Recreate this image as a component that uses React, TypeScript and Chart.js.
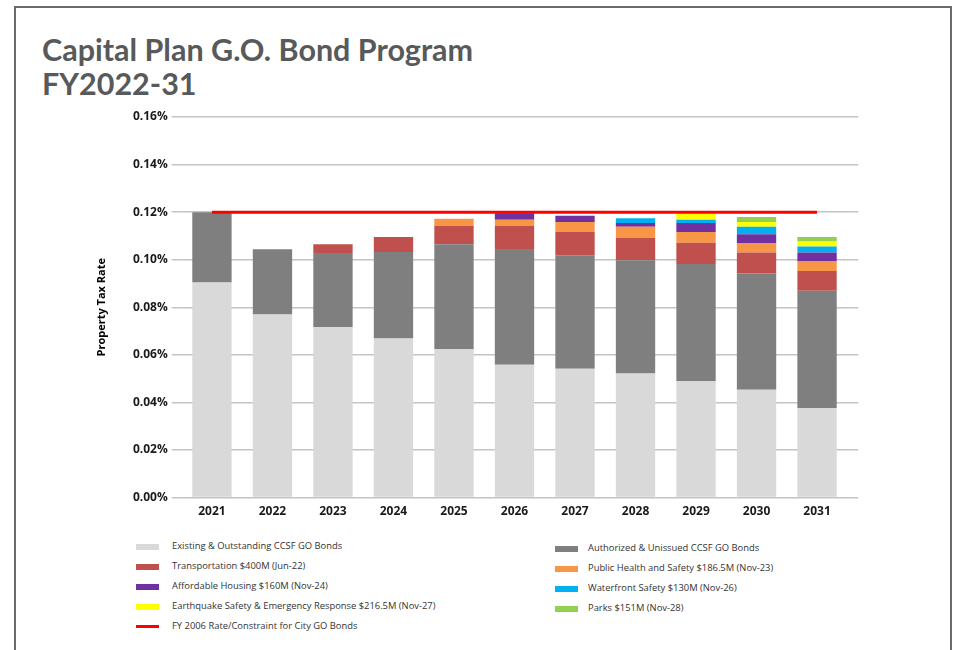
import React, { useEffect, useRef } from 'react';
import { Chart, registerables } from 'chart.js';

Chart.register(...registerables);

// ---------- data ----------
const years = ['2021', '2022', '2023', '2024', '2025', '2026', '2027', '2028', '2029', '2030', '2031'];

const existing = [0.0904, 0.0769, 0.0717, 0.0669, 0.0623, 0.0558, 0.0541, 0.0521, 0.0489, 0.0453, 0.0376];
const authorized = [0.0296, 0.0275, 0.0311, 0.0363, 0.0442, 0.0487, 0.0478, 0.0477, 0.0493, 0.0489, 0.0493];
const transportation = [0, 0, 0.0037, 0.0063, 0.0078, 0.0098, 0.0099, 0.0093, 0.0089, 0.0088, 0.0083];
const publicHealth = [0, 0, 0, 0, 0.0029, 0.0025, 0.004, 0.0047, 0.0045, 0.004, 0.004];
const housing = [0, 0, 0, 0, 0, 0.0027, 0.0027, 0.0016, 0.0038, 0.0037, 0.0038];
const waterfront = [0, 0, 0, 0, 0, 0, 0, 0.002, 0.0014, 0.0031, 0.0025];
const earthquake = [0, 0, 0, 0, 0, 0, 0, 0, 0.0028, 0.0021, 0.0021];
const parks = [0, 0, 0, 0, 0, 0, 0, 0, 0, 0.002, 0.0019];
const constraint = [0.12, 0.12, 0.12, 0.12, 0.12, 0.12, 0.12, 0.12, 0.12, 0.12, 0.12];

const yTicks = [0, 0.02, 0.04, 0.06, 0.08, 0.1, 0.12, 0.14, 0.16];

const titleLines = ['Capital Plan G.O. Bond Program', 'FY2022-31'];
const yTitle = 'Property Tax Rate';

const barSeries = [
  { key: 'existing', label: 'Existing & Outstanding CCSF GO Bonds', data: existing, color: '#d9d9d9' },
  { key: 'authorized', label: 'Authorized & Unissued CCSF GO Bonds', data: authorized, color: '#7f7f7f' },
  { key: 'transportation', label: 'Transportation $400M (Jun-22)', data: transportation, color: '#c0504d' },
  { key: 'publicHealth', label: 'Public Health and Safety $186.5M (Nov-23)', data: publicHealth, color: '#f79646' },
  { key: 'housing', label: 'Affordable Housing $160M (Nov-24)', data: housing, color: '#7030a0' },
  { key: 'waterfront', label: 'Waterfront Safety $130M (Nov-26)', data: waterfront, color: '#00b0f0' },
  { key: 'earthquake', label: 'Earthquake Safety & Emergency Response $216.5M (Nov-27)', data: earthquake, color: '#ffff00' },
  { key: 'parks', label: 'Parks $151M (Nov-28)', data: parks, color: '#92d050' },
];
const lineSeries = { key: 'constraint', label: 'FY 2006 Rate/Constraint for City GO Bonds', data: constraint, color: '#ff0000' };

const legendLeft = ['existing', 'transportation', 'housing', 'earthquake', 'constraint'];
const legendRight = ['authorized', 'publicHealth', 'waterfront', 'parks'];

const FONT = "'Open Sans', 'DejaVu Sans', sans-serif";

function findSeries(key: string) {
  if (key === lineSeries.key) return { ...lineSeries, isLine: true };
  const s = barSeries.find((b) => b.key === key)!;
  return { ...s, isLine: false };
}

function LegendColumn({ keys, left, top, swatchLeft, textLeft }: { keys: string[]; left: number; top: number; swatchLeft: number; textLeft: number }) {
  return (
    <div style={{ position: 'absolute', left, top }}>
      {keys.map((k, i) => {
        const s = findSeries(k);
        return (
          <div key={k} style={{ position: 'absolute', top: i * 20.1, left: 0, height: 14, width: 400 }}>
            <div
              style={{
                position: 'absolute',
                left: swatchLeft,
                top: s.isLine ? 6 : 4.5,
                width: 23,
                height: s.isLine ? 2.5 : 6,
                background: s.color,
              }}
            />
            <div
              style={{
                position: 'absolute',
                left: textLeft,
                top: 0,
                fontFamily: FONT,
                fontSize: 9.4,
                lineHeight: '14px',
                color: '#333',
                whiteSpace: 'nowrap',
              }}
            >
              {s.label}
            </div>
          </div>
        );
      })}
    </div>
  );
}

export default function App() {
  const canvasRef = useRef<HTMLCanvasElement | null>(null);

  useEffect(() => {
    const canvas = canvasRef.current;
    if (!canvas) return;
    const tickFont = { family: FONT, size: 12, weight: 'bold' as const };
    const gridColor = '#c4c4c4';
    const chart = new Chart(canvas, {
      type: 'bar',
      data: {
        labels: years,
        datasets: [
          {
            type: 'line' as const,
            label: lineSeries.label,
            data: lineSeries.data,
            borderColor: lineSeries.color,
            backgroundColor: lineSeries.color,
            borderWidth: 3,
            pointRadius: 0,
            fill: false,
            stack: 'line',
            order: 0,
          } as any,
          ...barSeries.map((s) => ({
            type: 'bar' as const,
            label: s.label,
            data: s.data,
            backgroundColor: s.color,
            borderWidth: 0,
            stack: 'bonds',
            order: 1,
            barPercentage: 0.65,
            categoryPercentage: 1,
          })),
        ],
      },
      options: {
        responsive: false,
        maintainAspectRatio: false,
        animation: false,
        layout: { padding: { top: 17, left: 91.5, right: 96.7, bottom: 0 } },
        plugins: {
          legend: { display: false },
          title: { display: false },
          tooltip: { enabled: false },
        },
        scales: {
          x: {
            stacked: true,
            grid: { display: false, drawTicks: false },
            border: { display: false },
            ticks: { font: tickFont, color: '#1a1a1a', padding: 7 },
            afterFit: (s: any) => {
              s.height = 32.5;
            },
          },
          y: {
            stacked: true,
            min: 0,
            max: 0.16,
            afterBuildTicks: (s: any) => {
              s.ticks = yTicks.map((v) => ({ value: v }));
            },
            ticks: {
              font: tickFont,
              color: '#1a1a1a',
              padding: 4,
              callback: (v: any) => Number(v).toFixed(2) + '%',
            },
            grid: { color: gridColor, lineWidth: 1.5, drawTicks: true, tickLength: 10 },
            border: { display: false },
            title: {
              display: true,
              text: yTitle,
              font: { family: FONT, size: 11, weight: 'bold' },
              color: '#000',
              padding: { top: 4, bottom: 0 },
            },
            afterFit: (s: any) => {
              s.width = 90.2;
            },
          },
          y2: {
            position: 'right',
            min: 0,
            max: 0.16,
            afterBuildTicks: (s: any) => {
              s.ticks = yTicks.map((v) => ({ value: v }));
            },
            ticks: { display: false },
            grid: { color: gridColor, lineWidth: 1.5, drawOnChartArea: false, drawTicks: true, tickLength: 11 },
            border: { display: false },
            afterFit: (s: any) => {
              s.width = 12;
            },
          },
        },
      } as any,
    });
    return () => chart.destroy();
  }, []);

  return (
    <div style={{ position: 'absolute', left: 0, top: 0, width: 956, height: 650, overflow: 'hidden', background: '#fff' }}>
      <div
        style={{
          position: 'absolute',
          left: 14,
          top: 6,
          width: 938,
          height: 700,
          boxSizing: 'border-box',
          border: '2px solid #6b6b6b',
          borderBottom: 'none',
        }}
      />
      <div
        style={{
          position: 'absolute',
          left: 42,
          top: 32,
          fontFamily: "Lato, 'Open Sans', sans-serif",
          fontWeight: 700,
          fontSize: 30.5,
          lineHeight: '34px',
          color: '#58595b',
          whiteSpace: 'nowrap',
        }}
      >
        {titleLines.map((t) => (
          <div key={t}>{t}</div>
        ))}
      </div>
      <canvas
        ref={canvasRef}
        width={956}
        height={430}
        style={{ position: 'absolute', left: 0, top: 100, width: 956, height: 430 }}
      />
      <LegendColumn keys={legendLeft} left={0} top={539} swatchLeft={136} textLeft={172} />
      <LegendColumn keys={legendRight} left={0} top={541} swatchLeft={555} textLeft={588} />
    </div>
  );
}
